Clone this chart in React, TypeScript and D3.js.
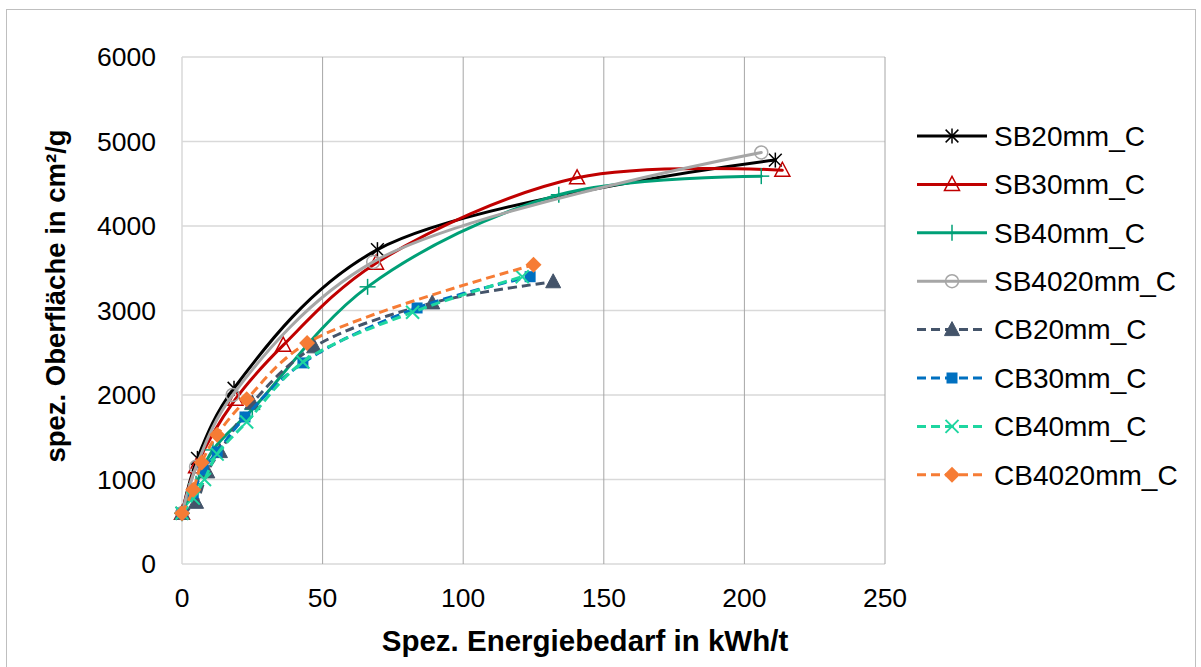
import React from "react";
import * as d3 from "d3";

// ---- data (x: Spez. Energiebedarf in kWh/t, y: spez. Oberfläche in cm²/g)
const sb20X = [0, 5.5, 18.5, 69.5, 211];
const sb20Y = [600, 1250, 2080, 3720, 4780];
const sb30X = [0, 5, 19, 36, 69, 140.5, 213.5];
const sb30Y = [600, 1150, 1950, 2590, 3560, 4570, 4660];
const sb40X = [0, 5, 11, 25, 66, 134, 206];
const sb40Y = [600, 950, 1350, 1830, 3280, 4370, 4590];
const sb4020X = [0, 5, 18, 68, 206];
const sb4020Y = [600, 1150, 2000, 3575, 4870];
const cb20X = [0, 5, 9, 13.5, 25, 47, 89, 132];
const cb20Y = [600, 730, 1090, 1330, 1905, 2570, 3090, 3340];
const cb30X = [0, 4, 7.5, 12.5, 22.4, 43, 83.6, 123.8];
const cb30Y = [600, 840, 1112, 1325, 1740, 2380, 3030, 3400];
const cb40X = [0, 4, 8, 12.5, 23, 43, 82, 121];
const cb40Y = [600, 780, 1000, 1300, 1680, 2390, 2980, 3400];
const cb4020X = [0, 4, 7, 12.5, 23, 44.5, 125];
const cb4020Y = [600, 880, 1200, 1530, 1950, 2615, 3540];

const xTicks = [0, 50, 100, 150, 200, 250];
const yTicks = [0, 1000, 2000, 3000, 4000, 5000, 6000];

const seriesNames = ["SB20mm_C", "SB30mm_C", "SB40mm_C", "SB4020mm_C", "CB20mm_C", "CB30mm_C", "CB40mm_C", "CB4020mm_C"];
const seriesX = [sb20X, sb30X, sb40X, sb4020X, cb20X, cb30X, cb40X, cb4020X];
const seriesY = [sb20Y, sb30Y, sb40Y, sb4020Y, cb20Y, cb30Y, cb40Y, cb4020Y];
const seriesColor = ["#000000", "#C00000", "#00A077", "#A6A6A6", "#44546A", "#0070C0", "#1ED6A0", "#F67C35"];
const seriesDashed = [false, false, false, false, true, true, true, true];
const seriesMarker = ["asterisk", "triOpen", "plus", "circleOpen", "triFilled", "square", "x", "diamond"];

const W = 1201, H = 667;
const PL = 182, PR = 885, PT = 57, PB = 564;
const FONT = "Liberation Sans, Arial, sans-serif";

function Marker({ kind, cx, cy, color }: { kind: string; cx: number; cy: number; color: string }) {
  const t = `translate(${cx},${cy})`;
  switch (kind) {
    case "asterisk": {
      const r = 7.5;
      return (
        <g transform={t} stroke={color} strokeWidth={1.5}>
          <line x1={0} y1={-r} x2={0} y2={r} />
          <line x1={-r * 0.85} y1={-r * 0.85} x2={r * 0.85} y2={r * 0.85} />
          <line x1={-r * 0.85} y1={r * 0.85} x2={r * 0.85} y2={-r * 0.85} />
        </g>
      );
    }
    case "triOpen":
      return <path transform={t} d="M0,-8 L7.5,6 L-7.5,6 Z" fill="none" stroke={color} strokeWidth={1.5} />;
    case "triFilled":
      return <path transform={t} d="M0,-8 L7.5,6 L-7.5,6 Z" fill={color} stroke={color} strokeWidth={1} />;
    case "plus":
      return (
        <g transform={t} stroke={color} strokeWidth={1.5}>
          <line x1={0} y1={-8} x2={0} y2={8} />
          <line x1={-8} y1={0} x2={8} y2={0} />
        </g>
      );
    case "circleOpen":
      return <circle cx={cx} cy={cy} r={6.5} fill="none" stroke={color} strokeWidth={1.5} />;
    case "square":
      return <rect x={cx - 5.5} y={cy - 5.5} width={11} height={11} fill={color} />;
    case "x":
      return (
        <g transform={t} stroke={color} strokeWidth={2}>
          <line x1={-6.5} y1={-6.5} x2={6.5} y2={6.5} />
          <line x1={-6.5} y1={6.5} x2={6.5} y2={-6.5} />
        </g>
      );
    case "diamond":
      return <path transform={t} d="M0,-8 L8,0 L0,8 L-8,0 Z" fill={color} />;
    default:
      return null;
  }
}

export default function App() {
  const x = d3.scaleLinear().domain([0, 250]).range([PL, PR]);
  const y = d3.scaleLinear().domain([0, 6000]).range([PB, PT]);
  const line = d3
    .line<[number, number]>()
    .x((d) => x(d[0]))
    .y((d) => y(d[1]))
    .curve(d3.curveCatmullRom.alpha(0.5));

  const legendY0 = 136;
  const legendDy = 48.4;

  return (
    <svg
      width={W}
      height={H}
      style={{ position: "absolute", left: 0, top: 0, background: "#fff" }}
      fontFamily={FONT}
    >
      <rect x={0} y={0} width={W} height={H} fill="#fff" />
      <rect x={6.5} y={9.5} width={1189} height={700} fill="none" stroke="#BFBFBF" strokeWidth={1} />

      {/* horizontal gridlines */}
      {yTicks.map((v) => (
        <line key={"hy" + v} x1={PL} x2={PR} y1={y(v)} y2={y(v)} stroke="#D9D9D9" strokeWidth={1.5} />
      ))}
      {/* vertical gridlines */}
      {xTicks.map((v) => (
        <line
          key={"vx" + v}
          x1={x(v)}
          x2={x(v)}
          y1={PT}
          y2={PB}
          stroke={v === 0 ? "#D9D9D9" : "#A6A6A6"}
          strokeWidth={v === 0 ? 1.5 : 1}
        />
      ))}

      {/* y tick labels */}
      {yTicks.map((v) => (
        <text key={"yt" + v} x={156} y={y(v)} dy="0.35em" textAnchor="end" fontSize={26.5} fill="#000">
          {v}
        </text>
      ))}
      {/* x tick labels */}
      {xTicks.map((v) => (
        <text key={"xt" + v} x={x(v)} y={598} dy="0.35em" textAnchor="middle" fontSize={26.5} fill="#000">
          {v}
        </text>
      ))}

      {/* axis titles */}
      <text x={585} y={651} textAnchor="middle" fontSize={29.5} fontWeight="bold" fill="#000">
        Spez. Energiebedarf in kWh/t
      </text>
      <text
        transform={`translate(55,296) rotate(-90)`}
        textAnchor="middle"
        dy="0.35em"
        fontSize={27.5}
        fontWeight="bold"
        fill="#000"
      >
        spez. Oberfläche in cm²/g
      </text>

      {/* series */}
      {seriesNames.map((name, i) => {
        const pts = seriesX[i].map((xv, j) => [xv, seriesY[i][j]] as [number, number]);
        return (
          <g key={name}>
            <path
              d={line(pts) || ""}
              fill="none"
              stroke={seriesColor[i]}
              strokeWidth={3}
              strokeDasharray={seriesDashed[i] ? "9,5" : undefined}
              strokeLinecap={seriesDashed[i] ? "butt" : "round"}
            />
            {pts.map((p, j) => (
              <Marker key={j} kind={seriesMarker[i]} cx={x(p[0])} cy={y(p[1])} color={seriesColor[i]} />
            ))}
          </g>
        );
      })}

      {/* legend */}
      {seriesNames.map((name, i) => {
        const ly = legendY0 + i * legendDy;
        return (
          <g key={"lg" + name}>
            <line
              x1={917}
              x2={987}
              y1={ly}
              y2={ly}
              stroke={seriesColor[i]}
              strokeWidth={3}
              strokeDasharray={seriesDashed[i] ? "9,5" : undefined}
            />
            <Marker kind={seriesMarker[i]} cx={952} cy={ly} color={seriesColor[i]} />
            <text x={994} y={ly} dy="0.35em" fontSize={28} fill="#000">
              {name}
            </text>
          </g>
        );
      })}
    </svg>
  );
}
